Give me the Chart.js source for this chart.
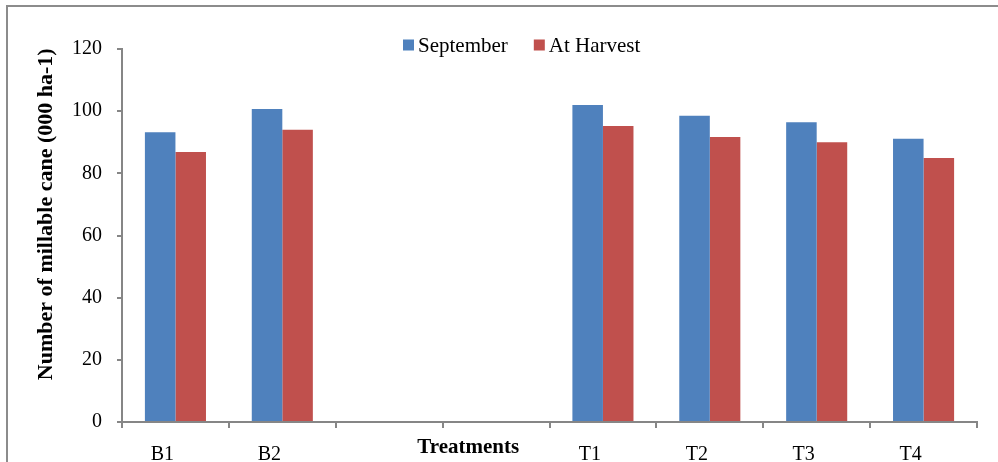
<!DOCTYPE html>
<html>
<head>
<meta charset="utf-8">
<script src="https://cdn.jsdelivr.net/npm/chart.js@4/dist/chart.umd.min.js"></script>
<style>
  html, body { margin: 0; padding: 0; background: #ffffff; }
  #wrap { width: 998px; height: 462px; position: relative; }
</style>
</head>
<body>
<div id="wrap"><canvas id="chart" width="998" height="462"></canvas></div>
<script>
// Treatments (two blank slots separate the B and T groups)
const categories = ['B1', 'B2', '', '', 'T1', 'T2', 'T3', 'T4'];
// Number of millable cane (000 ha-1)
const september = [93.2, 100.7, null, null, 102.0, 98.5, 96.4, 91.1];
const atHarvest = [86.9, 94.0, null, null, 95.2, 91.7, 90.0, 84.9];
const yTicks = [0, 20, 40, 60, 80, 100, 120];

const seriesNames = ['September', 'At Harvest'];
const seriesColors = ['#4F81BD', '#C0504D'];
const axisGray = '#868686';
const serif = '"Liberation Serif", "Times New Roman", serif';

// Outer frame, legend and axis titles
const decorations = {
  id: 'decorations',
  beforeDraw(chart) {
    const ctx = chart.ctx;
    ctx.save();
    ctx.fillStyle = '#ffffff';
    ctx.fillRect(0, 0, chart.width, chart.height);
    ctx.strokeStyle = '#8c8c8c';
    ctx.lineWidth = 2;
    ctx.beginPath();
    ctx.moveTo(chart.width, 6);
    ctx.lineTo(7, 6);
    ctx.lineTo(7, chart.height);
    ctx.stroke();
    ctx.restore();
  },
  afterDraw(chart) {
    const ctx = chart.ctx;
    const a = chart.chartArea;
    ctx.save();
    // legend
    ctx.font = '21px ' + serif;
    ctx.textBaseline = 'middle';
    ctx.textAlign = 'left';
    let x = 403;
    const y = 45;
    seriesNames.forEach((name, i) => {
      ctx.fillStyle = seriesColors[i];
      ctx.fillRect(x, y - 5.5, 11, 11);
      ctx.fillStyle = '#000000';
      ctx.fillText(name, x + 15, y + 1);
      x += 15 + ctx.measureText(name).width + 26;
    });
    // y axis title
    ctx.font = 'bold 22px ' + serif;
    ctx.textAlign = 'center';
    ctx.translate(46, a.top + (a.bottom - a.top) * 0.443);
    ctx.rotate(-Math.PI / 2);
    ctx.fillText('Number of millable cane (000 ha-1)', 0, 0);
    ctx.restore();
    // x axis title
    ctx.save();
    ctx.font = 'bold 21px ' + serif;
    ctx.fillStyle = '#000000';
    ctx.textAlign = 'center';
    ctx.textBaseline = 'alphabetic';
    ctx.fillText('Treatments', a.left + (a.right - a.left) * 0.405, 453);
    ctx.restore();
  }
};

new Chart(document.getElementById('chart'), {
  type: 'bar',
  data: {
    labels: categories,
    datasets: [
      { label: seriesNames[0], data: september, backgroundColor: seriesColors[0] },
      { label: seriesNames[1], data: atHarvest, backgroundColor: seriesColors[1] }
    ]
  },
  options: {
    responsive: false,
    animation: false,
    layout: { padding: { left: 0, top: 49, right: 21, bottom: 0 } },
    datasets: { bar: { categoryPercentage: 2 / 3.5, barPercentage: 1 } },
    plugins: { legend: { display: false }, title: { display: false }, tooltip: { enabled: false } },
    scales: {
      x: {
        grid: { display: true, drawOnChartArea: false, drawTicks: true, tickLength: 6, color: axisGray, lineWidth: 2 },
        border: { display: true, color: axisGray, width: 2 },
        ticks: { color: '#000000', font: { family: serif, size: 20 }, padding: 15, labelOffset: -13, maxRotation: 0, autoSkip: false },
        afterFit(scale) { scale.height = 40; }
      },
      y: {
        min: 0, max: 120,
        afterBuildTicks(scale) { scale.ticks = yTicks.map(v => ({ value: v })); },
        grid: { display: true, drawOnChartArea: false, drawTicks: true, tickLength: 5, color: axisGray, lineWidth: 2 },
        border: { display: true, color: axisGray, width: 2 },
        ticks: { color: '#000000', font: { family: serif, size: 20 }, padding: 15 },
        afterFit(scale) { scale.width = 122; }
      }
    }
  },
  plugins: [decorations]
});
</script>
</body>
</html>
